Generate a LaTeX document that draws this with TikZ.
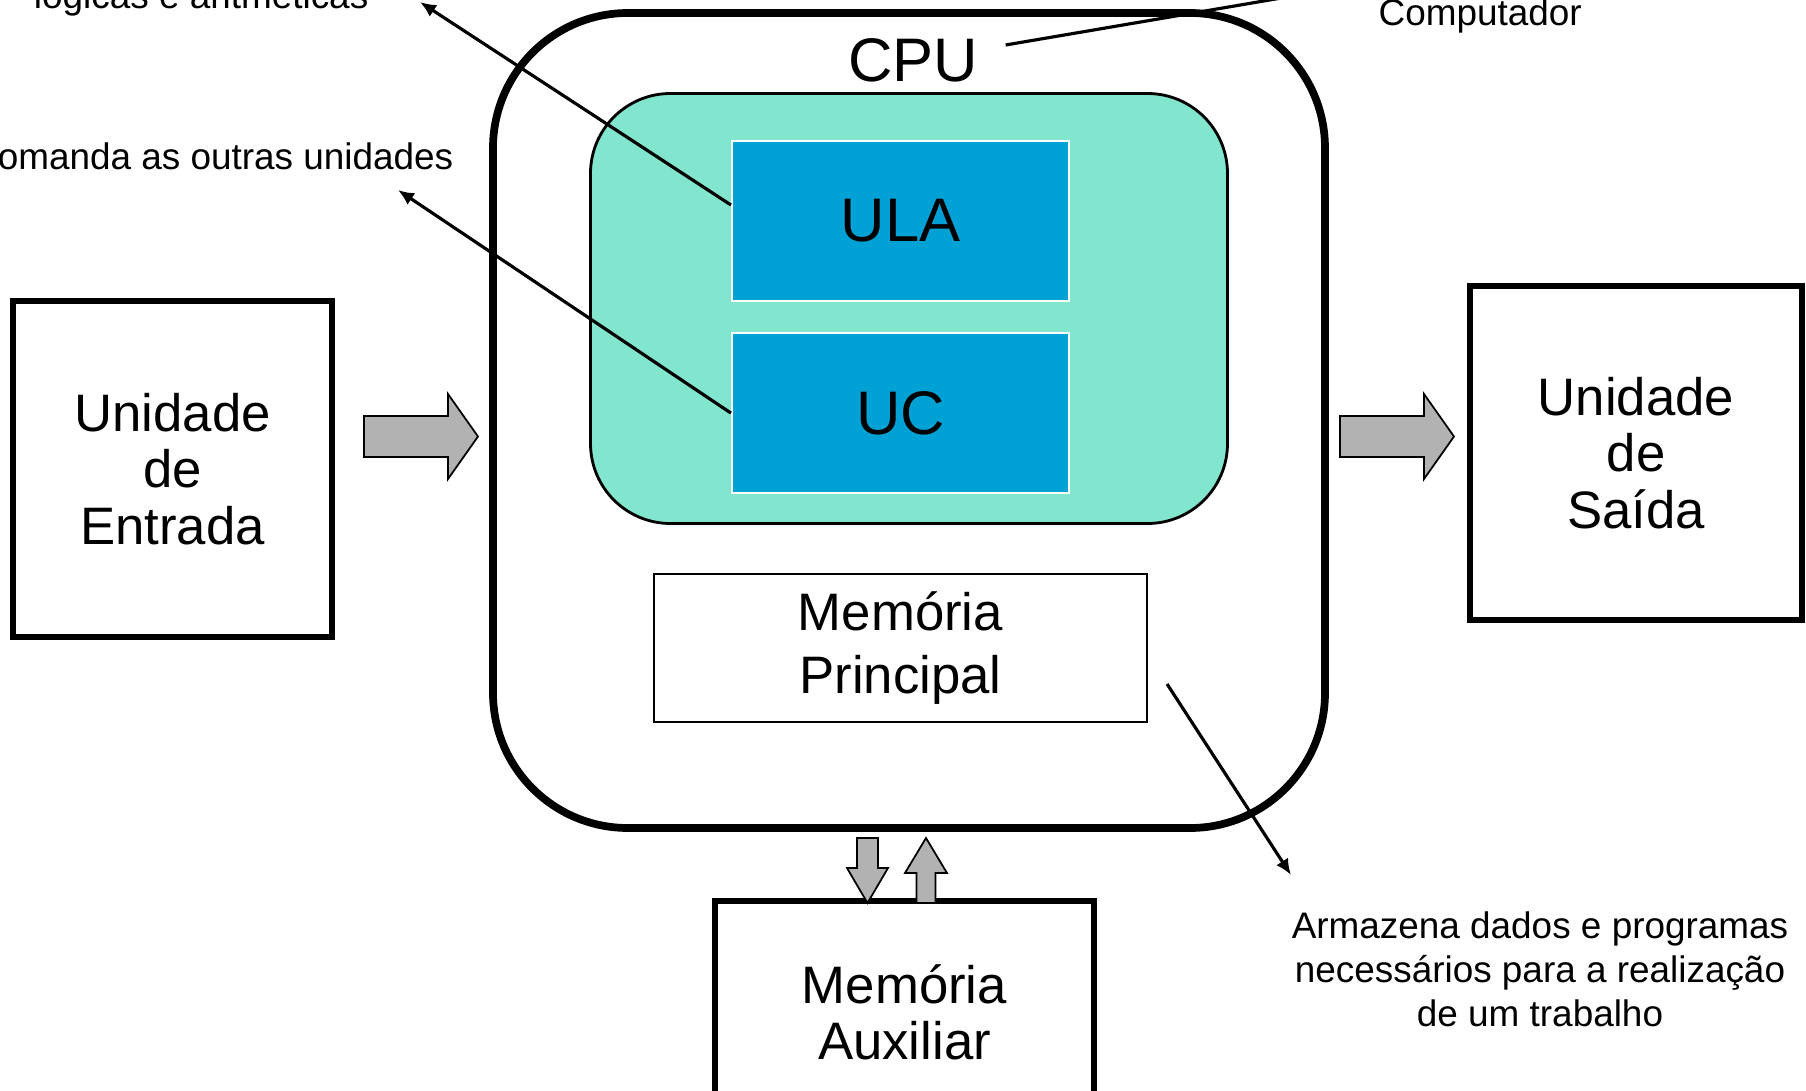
\documentclass[tikz,border=0pt]{standalone}
\usepackage{fontspec}
\setmainfont{Liberation Sans}
\usetikzlibrary{arrows.meta, positioning, calc}

\definecolor{coregreen}{RGB}{130,230,206}
\definecolor{subblue}{RGB}{0,162,214}
\definecolor{arrowgray}{RGB}{178,178,178}

\begin{document}
\begin{tikzpicture}[
    unit_block/.style={rectangle, draw, line width=1.7pt, align=center, font=\fontsize{15}{16}\selectfont},
    cpu_block/.style={rectangle, draw, line width=2.2pt, rounded corners=1.35cm, minimum width=8.32cm, minimum height=8.15cm},
    core_block/.style={rectangle, draw, fill=coregreen, line width=0.8pt, rounded corners=0.8cm, minimum width=6.37cm, minimum height=4.30cm},
    sub_block/.style={rectangle, draw=white, fill=subblue, line width=0.6pt, minimum width=3.37cm, minimum height=1.60cm, font=\fontsize{17.5}{20}\selectfont},
    mem_block/.style={rectangle, draw, line width=0.6pt, minimum width=4.93cm, minimum height=1.48cm, align=center, font=\fontsize{15}{18}\selectfont},
    note/.style={font=\fontsize{10.5}{12.5}\selectfont, inner sep=0pt},
    pointer/.style={-{Latex[length=1.6mm, width=1.4mm]}, line width=0.9pt},
    fat_arrow/.style={draw, fill=arrowgray, line width=0.5pt}
]
    \useasboundingbox (0,0) rectangle (18.06,-10.91);
    \clip (0,0) rectangle (18.06,-10.91);

    % Input / Output units
    \node[unit_block, minimum width=3.19cm, minimum height=3.36cm] (input) at (1.725,-4.69) {Unidade\\de\\Entrada};
    \node[unit_block, minimum width=3.32cm, minimum height=3.34cm] (output) at (16.36,-4.53) {Unidade\\de\\Saída};

    % CPU
    \node[cpu_block] (cpu) at (9.09,-4.205) {};
    \node[font=\fontsize{17.5}{20}\selectfont, inner sep=0pt] (cpu_label) at (9.13,-0.60) {CPU};
    \node[core_block] (core) at (9.09,-3.085) {};
    \node[sub_block] (ula) at (9.005,-2.21) {ULA};
    \node[sub_block, below=0.3cm of ula] (uc) {UC};
    \node[mem_block] (main_mem) at (9.005,-6.48) {Memória\\Principal};

    % Auxiliary memory
    \node[unit_block, minimum width=3.79cm, minimum height=2.22cm] (aux_mem) at (9.045,-10.12) {Memória\\Auxiliar};

    % Block arrows
    \draw[fat_arrow] (3.64,-4.16) -- (4.48,-4.16) -- (4.48,-3.94) -- (4.78,-4.365) -- (4.48,-4.79) -- (4.48,-4.57) -- (3.64,-4.57) -- cycle;
    \draw[fat_arrow] (13.40,-4.16) -- (14.24,-4.16) -- (14.24,-3.94) -- (14.54,-4.365) -- (14.24,-4.79) -- (14.24,-4.57) -- (13.40,-4.57) -- cycle;
    \draw[fat_arrow] (8.57,-8.38) -- (8.78,-8.38) -- (8.78,-8.68) -- (8.88,-8.68) -- (8.675,-9.03) -- (8.47,-8.68) -- (8.57,-8.68) -- cycle;
    \draw[fat_arrow] (9.165,-9.03) -- (9.165,-8.73) -- (9.05,-8.73) -- (9.26,-8.38) -- (9.47,-8.73) -- (9.355,-8.73) -- (9.355,-9.03) -- cycle;

    % Notes
    \node[note, anchor=base east] (alu_note) at (3.69,-0.08) {lógicas e aritméticas};
    \node[note, anchor=base east] (cu_note) at (4.54,-1.70) {Comanda as outras unidades};
    \node[note, anchor=base west] (cpu_note) at (13.78,-0.25) {Computador};
    \node[note, align=center] (mem_note) at (15.40,-9.69) {Armazena dados e programas\\necessários para a realização\\de um trabalho};

    % Pointers
    \coordinate (alu_tip) at (4.20,-0.02);
    \coordinate (cu_tip) at (3.98,-1.90);
    \coordinate (cpu_tip) at (13.40,0.12);
    \coordinate (mem_tip) at (12.91,-8.75);
    \draw[pointer] ([yshift=0.16cm]ula.west) -- (alu_tip);
    \draw[pointer] (uc.west) -- (cu_tip);
    \draw[pointer] ([xshift=0.27cm, yshift=0.15cm]cpu_label.east) -- (cpu_tip);
    \draw[pointer] ([xshift=0.19cm, yshift=-0.36cm]main_mem.east) -- (mem_tip);

\end{tikzpicture}
\end{document}
